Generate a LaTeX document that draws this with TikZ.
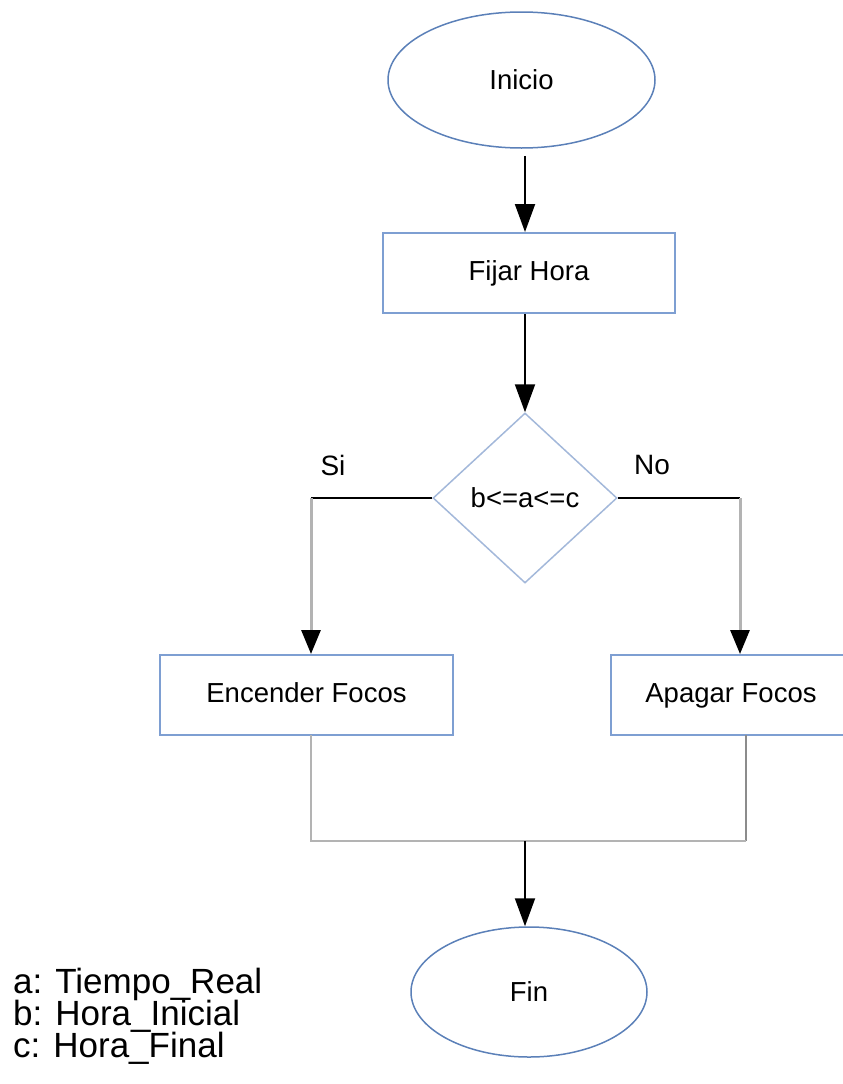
\documentclass[tikz,border=0pt]{standalone}
\usepackage{fontspec}
\setmainfont{Liberation Sans}
\usetikzlibrary{shapes.geometric,arrows.meta}
\definecolor{ovalblue}{HTML}{5B80B8}
\definecolor{boxblue}{HTML}{7E9FD2}
\definecolor{diamblue}{HTML}{A3B8DA}
\definecolor{linegray}{HTML}{B3B3B3}
\definecolor{darkgray}{HTML}{8C8C8C}
\tikzset{
    terminal/.style={ellipse, draw=ovalblue, line width=1.5pt, inner sep=0pt,
        font=\fontsize{27.5}{30}\selectfont},
    process/.style={rectangle, draw=boxblue, line width=2pt, inner sep=0pt,
        minimum height=80pt, text height=20pt, text depth=6pt,
        font=\fontsize{27.5}{30}\selectfont},
    decision/.style={diamond, draw=diamblue, line width=1.5pt, inner sep=0pt,
        minimum width=184pt, minimum height=170pt, font=\fontsize{27.5}{30}\selectfont},
    flow/.style={line width=2pt, -{Triangle[length=28pt,width=20pt]}},
    branch/.style={line width=3pt, draw=linegray,
        -{Triangle[length=24pt,width=19pt,color=black]}},
    merge/.style={line width=2.5pt, draw=linegray},
    legend/.style={anchor=base west, inner sep=0pt, font=\fontsize{35}{32}\selectfont}
}
\begin{document}
\begin{tikzpicture}[x=1pt,y=-1pt]
\useasboundingbox (0,0) rectangle (843,1084);
% flowchart nodes
\node[terminal, minimum width=267pt, minimum height=136pt] (inicio) at (521.5,80) {Inicio};
\node[process, minimum width=292pt] (fijar) at (529,273) {Fijar Hora};
\node[decision] (cond) at (525,498) {b<=a<=c};
\node[process, minimum width=293pt] (encender) at (306.5,695) {Encender Focos};
\node[process, minimum width=240pt] (apagar) at (731,695) {Apagar Focos};
\node[terminal, minimum width=236pt, minimum height=130pt] (fin) at (529,992) {Fin};
% branch labels
\node[font=\fontsize{28}{30}\selectfont, inner sep=0pt] (si) at (333,465) {Si};
\node[font=\fontsize{28}{30}\selectfont, inner sep=0pt] (no) at (652,465) {No};
% corners
\coordinate (sicorner) at (311,498);
\coordinate (nocorner) at (740,498);
\coordinate (encout) at (311,735);
\coordinate (apaout) at (746,735);
\coordinate (join) at (525,841);
% connectors
\draw[flow] (inicio.south -| cond.north) ++(0,7) -- (fijar.north -| cond.north);
\draw[flow] (fijar.south -| cond.north) -- (cond.north);
\draw[line width=2pt] (cond.west) -- (sicorner);
\draw[line width=2pt] (cond.east) -- (nocorner);
\draw[branch] (sicorner) -- (encender.north -| sicorner);
\draw[branch] (nocorner) -- (apagar.north -| nocorner);
\draw[merge] (encout) |- (join);
\draw[merge, draw=darkgray, line width=2pt] (apaout) -- (apaout |- join);
\draw[merge] (apaout |- join) -- (join);
\draw[flow] (join) -- (join |- fin.north);
% legend
\node[legend] (leg-a) at (13,993) {a: Tiempo\_Real};
\node[legend] (leg-b) at (13,1025) {b: Hora\_Inicial};
\node[legend] (leg-c) at (13,1057) {c: Hora\_Final};
\end{tikzpicture}
\end{document}
